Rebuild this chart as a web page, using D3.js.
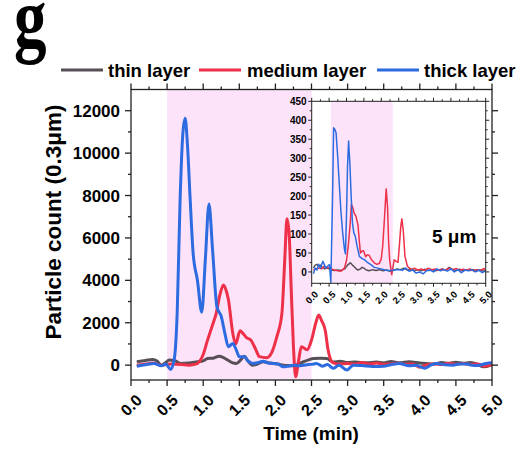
<!DOCTYPE html>
<html>
<head>
<meta charset="utf-8">
<script src="https://cdn.jsdelivr.net/npm/d3@7"></script>
<style>
  body { margin: 0; background: #fff; }
  svg { display: block; font-family: 'Liberation Sans', Arial, sans-serif; font-weight: bold; }
  .axis path, .axis line { stroke: #222; }
</style>
</head>
<body>
<svg id="chart" width="521" height="449"></svg>
<script>
// series names + colours
const seriesNames = ['thin layer', 'medium layer', 'thick layer'];
const seriesColors = ['#565056', '#ee3049', '#2d6be0'];

// main chart: 0.3 um particle count
const thinT = [0.08,0.2,0.3,0.36,0.42,0.48,0.53,0.6,0.69,0.8,0.92,1.0,1.06,1.14,1.22,1.28,1.34,1.4,1.46,1.52,1.57,1.62,1.68,1.75,1.83,1.9,1.97,2.04,2.11,2.18,2.25,2.32,2.39,2.46,2.53,2.62,2.71,2.8,2.9,3.0,3.1,3.26,3.4,3.5,3.6,3.72,3.85,4.0,4.19,4.3,4.4,4.5,4.6,4.7,4.8,4.88,5.0];
const thinV = [160,220,270,200,0,120,240,220,80,100,160,200,310,330,420,360,240,120,80,250,420,200,0,50,160,120,80,50,0,-20,-30,60,160,250,310,320,310,150,180,120,150,110,150,100,170,110,160,100,50,120,80,140,90,120,40,-80,30];

const mediumT = [0.08,0.2,0.3,0.42,0.55,0.7,0.8,0.87,0.92,1.0,1.06,1.12,1.18,1.23,1.28,1.32,1.35,1.41,1.45,1.51,1.55,1.6,1.66,1.72,1.78,1.88,1.95,2.02,2.09,2.13,2.16,2.19,2.22,2.25,2.28,2.32,2.36,2.44,2.5,2.56,2.6,2.64,2.69,2.73,2.8,2.9,3.0,3.1,3.2,3.3,3.4,3.5,3.6,3.7,3.8,3.9,4.0,4.1,4.2,4.3,4.4,4.5,4.6,4.7,4.8,4.9,5.0];
const mediumV = [0,50,100,0,50,30,0,30,80,500,1180,1800,2440,3300,3780,3500,3070,1500,1000,1620,1500,1300,1180,800,400,350,600,1340,2440,5000,6900,6200,3500,870,-550,200,870,730,1180,2000,2360,2100,1650,710,110,50,80,50,120,60,100,40,60,90,40,60,-100,20,60,30,90,40,80,20,60,-50,20];

const thickT = [0.08,0.2,0.32,0.42,0.48,0.55,0.6,0.64,0.68,0.72,0.75,0.78,0.82,0.86,0.92,0.98,1.03,1.08,1.13,1.19,1.25,1.3,1.35,1.41,1.46,1.5,1.57,1.62,1.69,1.76,1.83,1.9,1.97,2.04,2.11,2.18,2.25,2.32,2.39,2.46,2.53,2.57,2.65,2.72,2.8,2.88,2.99,3.08,3.2,3.35,3.5,3.6,3.72,3.85,3.95,4.07,4.15,4.23,4.35,4.46,4.55,4.65,4.75,4.83,4.92,5.0];
const thickV = [-50,20,80,-30,50,-200,300,2500,7800,11000,11650,10500,7800,5300,4000,2500,5000,7600,5430,2750,2300,1500,870,1020,700,400,400,200,80,120,190,100,80,50,-80,-50,0,-30,0,30,50,80,-50,30,-150,0,-230,0,-20,-60,-50,20,80,-30,0,-150,0,80,20,0,60,50,-20,0,80,110];

// inset: 5 um particle count
const thinT5 = [0.05,0.1,0.15,0.2,0.25,0.3,0.38,0.45,0.55,0.65,0.75,0.85,0.95,1.03,1.11,1.17,1.23,1.28,1.33,1.4,1.45,1.5,1.57,1.65,1.75,1.85,1.95,2.05,2.15,2.25,2.35,2.45,2.55,2.65,2.75,2.85,2.95,3.05,3.15,3.25,3.35,3.45,3.55,3.65,3.75,3.85,3.95,4.05,4.15,4.25,4.35,4.45,4.55,4.65,4.75,4.85,4.95,5.0];
const thinV5 = [10,18,20,15,18,12,8,10,6,4,5,4,8,18,24,18,13,8,5,8,12,10,5,3,6,4,6,3,5,2,4,8,6,10,5,8,4,6,3,7,4,6,3,5,8,4,12,6,4,7,3,5,4,6,3,5,2,4];

const mediumT5 = [0.05,0.1,0.2,0.28,0.35,0.42,0.5,0.57,0.65,0.75,0.84,0.94,1.0,1.05,1.1,1.14,1.18,1.22,1.27,1.33,1.37,1.4,1.45,1.49,1.55,1.6,1.65,1.72,1.8,1.87,1.94,2.0,2.04,2.09,2.14,2.18,2.21,2.24,2.3,2.34,2.37,2.43,2.48,2.52,2.56,2.59,2.63,2.68,2.75,2.86,2.95,3.05,3.15,3.25,3.35,3.45,3.55,3.65,3.75,3.85,3.95,4.05,4.15,4.25,4.35,4.45,4.55,4.65,4.75,4.85,4.95,5.0];
const mediumV5 = [5,8,10,8,15,10,12,8,5,3,2,10,30,68,120,178,170,155,147,124,80,50,55,56,40,45,44,32,24,20,22,35,68,140,219,170,80,32,-7,15,32,28,25,70,120,140,110,41,15,6,10,5,8,4,10,6,8,4,7,5,10,6,9,4,7,5,8,3,6,4,9,5];

const thickT5 = [0.05,0.1,0.15,0.2,0.25,0.32,0.36,0.4,0.45,0.51,0.55,0.6,0.63,0.67,0.7,0.75,0.79,0.84,0.89,0.94,0.97,1.0,1.03,1.06,1.1,1.13,1.17,1.21,1.25,1.3,1.37,1.45,1.52,1.6,1.7,1.8,1.9,2.0,2.1,2.2,2.3,2.4,2.53,2.6,2.7,2.8,2.9,3.0,3.1,3.2,3.3,3.4,3.5,3.6,3.7,3.8,3.9,4.0,4.1,4.2,4.3,4.4,4.5,4.6,4.7,4.8,4.9,5.0];
const thickV5 = [-5,10,5,20,10,28,20,10,15,19,-28,200,380,375,367,300,235,160,103,60,48,150,280,345,280,208,130,103,95,70,41,35,32,25,19,12,10,8,5,4,4,6,6,4,10,2,5,-3,0,-5,3,5,0,8,3,6,2,8,0,6,-2,5,3,6,0,5,-2,3];

// shaded windows (min)
const mainShade = [0.5, 2.5];
const insetShade = [0.55, 2.33];

// ticks
const xTicks = d3.range(0, 5.01, 0.5);
const xMinor = d3.range(0.25, 5, 0.5);
const yTicks = d3.range(0, 12001, 2000);
const yMinor = d3.range(1000, 13000, 2000);
const yTicks5 = d3.range(0, 451, 50);
const yMinor5 = d3.range(25, 450, 50);

const fmt1 = d3.format('.1f');
const zip = (t, v) => t.map((d, i) => ({ t: d, v: v[i] }));

const mainData = [zip(thinT, thinV), zip(mediumT, mediumV), zip(thickT, thickV)];
const insetData = [zip(thinT5, thinV5), zip(mediumT5, mediumV5), zip(thickT5, thickV5)];

const $svg = d3.select('#chart');

// dimensions
const M = { left: 131, right: 492, top: 89.5, bottom: 380 };
const I = { left: 311.7, right: 485.7, top: 101.3, bottom: 283.3 };

const x = d3.scaleLinear().domain([0, 5]).range([M.left, M.right]);
const y = d3.scaleLinear().domain([-700, 13000]).range([M.bottom, M.top]);
const xi = d3.scaleLinear().domain([0, 5]).range([I.left, I.right]);
const yi = d3.scaleLinear().domain([-30, 450]).range([I.bottom, I.top]);

const defs = $svg.append('defs');
defs.append('clipPath').attr('id', 'clip-main')
  .append('rect')
  .attr('x', M.left).attr('y', M.top)
  .attr('width', M.right - M.left).attr('height', M.bottom - M.top);
defs.append('clipPath').attr('id', 'clip-inset')
  .append('rect')
  .attr('x', I.left).attr('y', I.top)
  .attr('width', I.right - I.left).attr('height', I.bottom - I.top);

// panel letter
$svg.append('text')
  .attr('transform', 'translate(14,47) scale(0.93,1.22)')
  .style('font-family', "'Liberation Serif', 'Times New Roman', serif")
  .style('font-size', '70px')
  .text('g');

// legend
const legendItems = [
  { lx: 61, tx: 108 },
  { lx: 199, tx: 247 },
  { lx: 377, tx: 424 },
];
legendItems.forEach((d, i) => {
  $svg.append('line')
    .attr('x1', d.lx).attr('x2', d.lx + 42)
    .attr('y1', 70).attr('y2', 70)
    .attr('stroke', seriesColors[i]).attr('stroke-width', 3);
  $svg.append('text')
    .attr('x', d.tx).attr('y', 77)
    .style('font-size', '18.5px')
    .text(seriesNames[i]);
});

// ---- main chart ----
$svg.append('rect')
  .attr('x', x(mainShade[0])).attr('y', M.top)
  .attr('width', x(mainShade[1]) - x(mainShade[0]))
  .attr('height', M.bottom - M.top)
  .attr('fill', '#fde3fa');

function drawAxes(xs, ys, box, opt) {
  const g = $svg.append('g').attr('class', 'axis');
  const major = opt.major;
  const minor = opt.minor;
  // bottom / top
  [[box.bottom, 1], [box.top, -1]].forEach(([yy, dir]) => {
    opt.xTicks.forEach((t) => {
      g.append('line').attr('x1', xs(t)).attr('x2', xs(t))
        .attr('y1', yy).attr('y2', yy + dir * major);
    });
    opt.xMinor.forEach((t) => {
      g.append('line').attr('x1', xs(t)).attr('x2', xs(t))
        .attr('y1', yy).attr('y2', yy + dir * minor);
    });
  });
  // left / right
  [[box.left, -1], [box.right, 1]].forEach(([xx, dir]) => {
    opt.yTicks.forEach((t) => {
      g.append('line').attr('y1', ys(t)).attr('y2', ys(t))
        .attr('x1', xx).attr('x2', xx + dir * major);
    });
    opt.yMinor.forEach((t) => {
      g.append('line').attr('y1', ys(t)).attr('y2', ys(t))
        .attr('x1', xx).attr('x2', xx + dir * minor);
    });
  });
  g.selectAll('line').attr('stroke-width', opt.sw);
  g.append('rect')
    .attr('x', box.left).attr('y', box.top)
    .attr('width', box.right - box.left).attr('height', box.bottom - box.top)
    .attr('fill', 'none').attr('stroke', '#222').attr('stroke-width', opt.sw);

  // labels
  g.selectAll('.ylab')
    .data(opt.yTicks)
    .join('text')
    .attr('class', 'ylab')
    .attr('x', box.left - opt.yPad)
    .attr('y', (d) => ys(d))
    .attr('dy', '0.36em')
    .attr('text-anchor', 'end')
    .style('font-size', opt.yFont)
    .text((d) => d);
  g.selectAll('.xlab')
    .data(opt.xTicks)
    .join('text')
    .attr('class', 'xlab')
    .attr('transform', (d) => `translate(${xs(d)},${box.bottom + opt.xPad}) rotate(-45)`)
    .attr('dy', '0.36em')
    .attr('text-anchor', 'middle')
    .style('font-size', opt.xFont)
    .text((d) => fmt1(d));
}

const lineMain = d3.line().x((d) => x(d.t)).y((d) => y(d.v)).curve(d3.curveMonotoneX);
$svg.append('g').attr('clip-path', 'url(#clip-main)')
  .selectAll('path')
  .data(mainData)
  .join('path')
  .attr('d', lineMain)
  .attr('fill', 'none')
  .attr('stroke', (d, i) => seriesColors[i])
  .attr('stroke-width', 3)
  .attr('stroke-linejoin', 'round');

drawAxes(x, y, M, {
  xTicks, xMinor, yTicks, yMinor,
  major: 6, minor: 3, sw: 1.3, yPad: 11, xPad: 25, yFont: '17px', xFont: '16px',
});

// axis titles
$svg.append('text')
  .attr('transform', `translate(61,222) rotate(-90)`)
  .attr('text-anchor', 'middle')
  .style('font-size', '22.5px')
  .text('Particle count (0.3\u03bcm)');
$svg.append('text')
  .attr('x', 311).attr('y', 440)
  .attr('text-anchor', 'middle')
  .style('font-size', '19px')
  .text('Time (min)');

// ---- inset ----
$svg.append('rect')
  .attr('x', I.left).attr('y', I.top)
  .attr('width', I.right - I.left).attr('height', I.bottom - I.top)
  .attr('fill', '#fff');
$svg.append('rect')
  .attr('x', xi(insetShade[0])).attr('y', I.top)
  .attr('width', xi(insetShade[1]) - xi(insetShade[0]))
  .attr('height', I.bottom - I.top)
  .attr('fill', '#fde3fa');

const lineInset = d3.line().x((d) => xi(d.t)).y((d) => yi(d.v));
$svg.append('g').attr('clip-path', 'url(#clip-inset)')
  .selectAll('path')
  .data(insetData)
  .join('path')
  .attr('d', lineInset)
  .attr('fill', 'none')
  .attr('stroke', (d, i) => seriesColors[i])
  .attr('stroke-width', 1.5)
  .attr('stroke-linejoin', 'round');

drawAxes(xi, yi, I, {
  xTicks, xMinor, yTicks: yTicks5, yMinor: yMinor5,
  major: 3.5, minor: 2, sw: 1, yPad: 5, xPad: 14, yFont: '10px', xFont: '9.5px',
});

$svg.append('text')
  .attr('x', 432).attr('y', 243)
  .style('font-size', '19px')
  .text('5 \u03bcm');
</script>
</body>
</html>
